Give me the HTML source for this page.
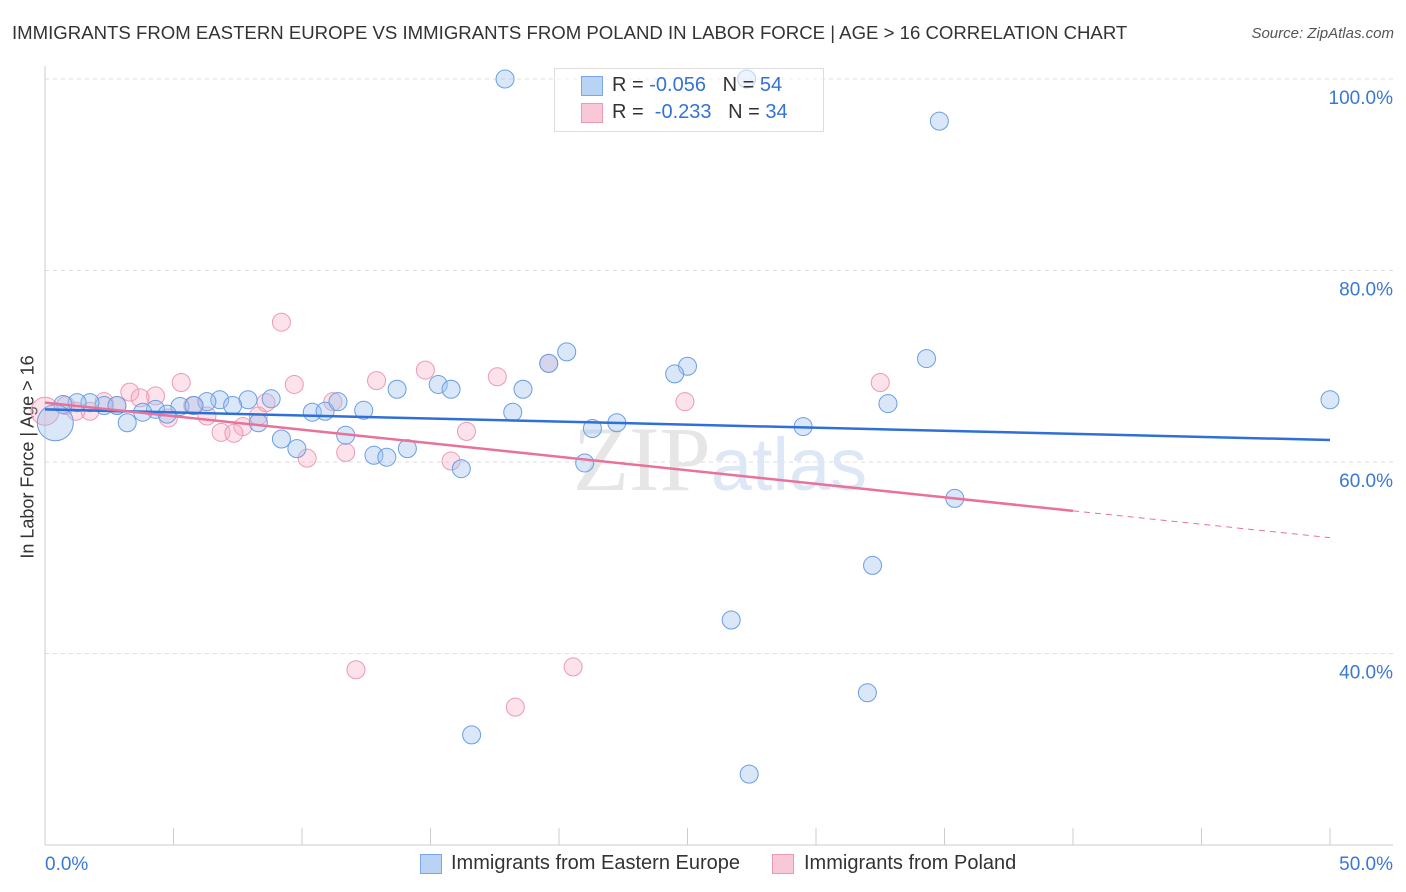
<!DOCTYPE html>
<html><head><meta charset="utf-8">
<style>
body{margin:0;background:#fff;font-family:"Liberation Sans",sans-serif;}
#wrap{position:relative;width:1406px;height:892px;overflow:hidden;}
.t{position:absolute;white-space:nowrap;}
</style></head>
<body>
<div id="wrap">
<div class="t" style="left:12px;top:22px;font-size:18.6px;color:#333;">IMMIGRANTS FROM EASTERN EUROPE VS IMMIGRANTS FROM POLAND IN LABOR FORCE | AGE &gt; 16 CORRELATION CHART</div>
<div class="t" style="right:12px;top:25px;font-size:15px;font-style:italic;color:#555;">Source: ZipAtlas.com</div>
<div class="t" style="left:28px;top:457px;font-size:18px;color:#333;transform:translate(-50%,-50%) rotate(-90deg);">In Labor Force | Age &gt; 16</div>
<svg id="plot" width="1406" height="892" style="position:absolute;left:0;top:0"></svg>
<div class="t" style="left:554px;top:68px;width:268px;height:62px;border:1px solid #ddd;background:rgba(255,255,255,0.55);"></div>
<div class="t" style="left:581px;top:76px;width:20px;height:18px;background:#b8d3f4;border:1px solid #7aa7e6;"></div>
<div class="t" style="left:612px;top:74px;font-size:20px;color:#333;">R = <span style="color:#3472d4">-0.056</span>&nbsp;&nbsp;&nbsp;N = <span style="color:#3472d4">54</span></div>
<div class="t" style="left:581px;top:103px;width:20px;height:18px;background:#f9c8d6;border:1px solid #ec9ab3;"></div>
<div class="t" style="left:612px;top:101px;font-size:20px;color:#333;">R = &nbsp;<span style="color:#3472d4">-0.233</span>&nbsp;&nbsp;&nbsp;N = <span style="color:#3472d4">34</span></div>
<div class="t" style="left:420px;top:854px;width:20px;height:18px;background:#b8d3f4;border:1px solid #7aa7e6;"></div>
<div class="t" style="left:451px;top:852px;font-size:20px;color:#333;">Immigrants from Eastern Europe</div>
<div class="t" style="left:772px;top:854px;width:20px;height:18px;background:#f9c8d6;border:1px solid #ec9ab3;"></div>
<div class="t" style="left:804px;top:852px;font-size:20px;color:#333;">Immigrants from Poland</div>
</div>
<script>
const yTicks=[100,80,60,40];
const xTickLabels=["0.0%","50.0%"];
const blueX=[17.9,27.3,34.8,20.3,25.0,34.3,24.5,19.6,15.3,15.8,13.7,18.6,50.0,32.8,8.8,7.9,6.8,6.3,7.3,5.25,5.8,4.3,3.8,4.75,3.2,2.3,1.75,1.25,0.7,2.8,0.4,10.4,10.9,12.4,11.4,18.2,11.7,9.2,9.8,14.1,12.8,13.3,21.3,22.25,29.5,16.2,21.0,35.4,32.2,26.7,32.0,16.6,27.4,8.3];
const blueY=[100,100,95.6,71.5,70.0,70.8,69.2,70.3,68.1,67.6,67.6,67.6,66.5,66.1,66.6,66.5,66.5,66.3,65.9,65.8,65.9,65.5,65.2,65.0,64.1,65.9,66.2,66.2,66.0,65.9,64.1,65.2,65.3,65.4,66.3,65.2,62.8,62.4,61.4,61.4,60.7,60.5,63.5,64.1,63.7,59.3,59.9,56.2,49.2,43.5,35.9,31.5,27.4,64.1];
const blueR=[9,9,9,9,9,9,9,9,9,9,9,9,9,9,9,9,9,9,9,9,9,9,9,9,9,9,9,9,9,9,18,9,9,9,9,9,9,9,9,9,9,9,9,9,9,9,9,9,9,9,9,9,9,9];
const pinkX=[9.2,14.8,17.6,12.9,5.3,9.7,32.5,3.3,4.3,3.7,8.6,24.9,11.2,2.3,2.8,0.8,1.75,5.75,6.3,4.8,8.3,7.7,6.85,7.35,16.4,11.7,10.2,15.8,19.6,12.1,20.55,18.3,0.0,1.2];
const pinkY=[74.6,69.6,68.9,68.5,68.3,68.1,68.3,67.3,66.9,66.7,66.2,66.3,66.3,66.3,65.9,65.9,65.3,65.9,64.8,64.6,64.8,63.7,63.1,63.0,63.2,61.0,60.4,60.1,70.3,38.3,38.6,34.4,65.3,65.3];
const pinkR=[9,9,9,9,9,9,9,9,9,9,9,9,9,9,9,9,9,9,9,9,9,9,9,9,9,9,9,9,9,9,9,9,14,9];
const blueTrend=[[0,65.5],[50,62.3]];
const pinkTrend=[[0,66.2],[40,54.9],[50,52.1]];
const X0=45,X1=1330,Y100=79,YPER=9.575;
const sx=v=>X0+(v/50)*(X1-X0);
const sy=v=>Y100+(100-v)*YPER;
const svg=document.getElementById('plot');
const NS='http://www.w3.org/2000/svg';
function mk(tag,attrs){const e=document.createElementNS(NS,tag);for(const k in attrs)e.setAttribute(k,attrs[k]);svg.appendChild(e);return e;}
yTicks.forEach(v=>{
 const g=mk('line',{x1:X0,x2:1393,y1:sy(v),y2:sy(v),stroke:'#ddd','stroke-dasharray':'4,4'});
 
 
 const t=mk('text',{x:1393,y:sy(v)+25,'text-anchor':'end','font-size':19,fill:'#3a78d4','font-family':'Liberation Sans, sans-serif'});
 t.textContent=v.toFixed(1)+'%';
 
 
});
let ax=mk('line',{x1:X0,x2:X0,y1:66,y2:845,stroke:'#ccc'});


let bx=mk('line',{x1:X0,x2:1393,y1:845,y2:845,stroke:'#ccc'});


for(let i=0;i<=10;i++){
 const l=mk('line',{x1:sx(i*5),x2:sx(i*5),y1:828,y2:845,stroke:'#ccc'});
 
 
}
xTickLabels.forEach((s,i)=>{
 const t=mk('text',{x:i?1393:45,y:870,'text-anchor':i?'end':'start','font-size':19,fill:'#3a78d4','font-family':'Liberation Sans, sans-serif'});
 t.textContent=s;
 
 
});
let wm=mk('text',{x:720,y:490,'text-anchor':'middle','font-size':92,fill:'#e6e6e6','font-family':'Liberation Serif, serif'});
wm.innerHTML='ZIP<tspan fill="#dde7f5" font-family="Liberation Sans, sans-serif" font-size="74">atlas</tspan>';


pinkX.forEach((x,i)=>{
 const c=mk('circle',{cx:sx(x),cy:sy(pinkY[i]),r:pinkR[i],fill:'rgba(246,172,196,0.35)',stroke:'#ec9ab3','stroke-width':1});
 
 
});
blueX.forEach((x,i)=>{
 const c=mk('circle',{cx:sx(x),cy:sy(blueY[i]),r:blueR[i],fill:'rgba(160,196,240,0.4)',stroke:'#6a9ee3','stroke-width':1});
 
 
});
let bl=mk('line',{x1:sx(blueTrend[0][0]),y1:sy(blueTrend[0][1]),x2:sx(blueTrend[1][0]),y2:sy(blueTrend[1][1]),stroke:'#2f6fd6','stroke-width':2.5});


let pl=mk('line',{x1:sx(pinkTrend[0][0]),y1:sy(pinkTrend[0][1]),x2:sx(pinkTrend[1][0]),y2:sy(pinkTrend[1][1]),stroke:'#e8729a','stroke-width':2.5});


let pd=mk('line',{x1:sx(pinkTrend[1][0]),y1:sy(pinkTrend[1][1]),x2:sx(pinkTrend[2][0]),y2:sy(pinkTrend[2][1]),stroke:'#e8729a','stroke-width':1,'stroke-dasharray':'6,5'});


</script>
</body></html>
